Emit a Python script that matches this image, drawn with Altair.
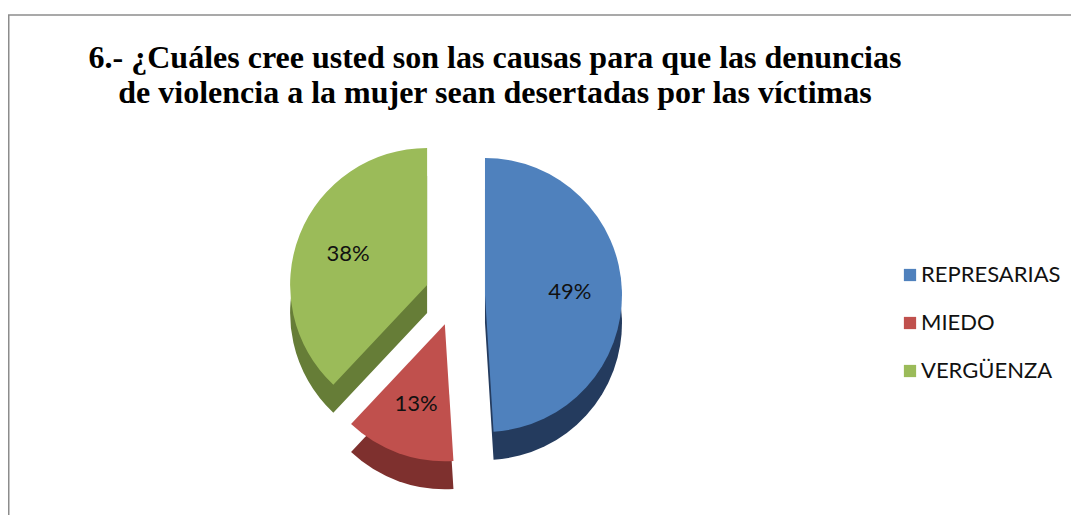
import altair as alt
import pandas as pd

# ---- data ----
categories = ["REPRESARIAS", "MIEDO", "VERGÜENZA"]
values = [49, 13, 38]
labels = ["49%", "13%", "38%"]
title_lines = [
    "6.- ¿Cuáles cree usted son las causas para que las denuncias",
    "de violencia a la mujer sean desertadas por las víctimas",
]

# ---- styles ----
top_colors = ["#4F81BD", "#C0504D", "#9BBB59"]
side_colors = ["#243B5E", "#7E302E", "#667D37"]

W, H = 1063, 507
CX, CY = 447, 288
R = 137
EXPLODE = 30
DEPTH = 28
LABEL_R = 0.62 * R
TOTAL = sum(values)

df = pd.DataFrame({
    "category": categories,
    "value": values,
    "label": labels,
    "order": list(range(len(categories))),
})

base = (
    alt.Chart(df)
    .transform_window(cum="sum(value)", sort=[alt.SortField("order")], frame=[None, 0])
    .transform_joinaggregate(total="sum(value)")
    .transform_calculate(
        start="datum.cum - datum.value",
        mid="2*PI*(datum.cum - datum.value/2)/datum.total",
    )
    .transform_calculate(
        cx=f"{CX} + {EXPLODE}*sin(datum.mid)",
        cy=f"{CY} - {EXPLODE}*cos(datum.mid)",
    )
    .transform_calculate(
        cyd=f"datum.cy + {DEPTH}",
        lx=f"datum.cx + {LABEL_R}*sin(datum.mid)",
        ly=f"datum.cy - {LABEL_R}*cos(datum.mid)",
    )
)

theta_scale = alt.Scale(domain=[0, TOTAL])

side = base.mark_arc(radius=R).encode(
    theta=alt.Theta("start:Q", scale=theta_scale),
    theta2="cum:Q",
    x=alt.X("cx:Q", scale=None, axis=None),
    y=alt.Y("cyd:Q", scale=None, axis=None),
    color=alt.Color("category:N", scale=alt.Scale(domain=categories, range=side_colors), legend=None),
)

top = base.mark_arc(radius=R).encode(
    theta=alt.Theta("start:Q", scale=theta_scale),
    theta2="cum:Q",
    x=alt.X("cx:Q", scale=None, axis=None),
    y=alt.Y("cy:Q", scale=None, axis=None),
    color=alt.Color(
        "category:N",
        scale=alt.Scale(domain=categories, range=top_colors),
        legend=alt.Legend(
            title=None,
            orient="none",
            legendX=891,
            legendY=256,
            symbolType="square",
            symbolSize=150,
            symbolStrokeWidth=0,
            labelFont="Lato",
            labelFontSize=22,
            labelColor="#111111",
            labelOffset=0,
            rowPadding=26,
        ),
    ),
)

text = base.mark_text(font="Lato", fontSize=22, color="#111111").encode(
    x=alt.X("lx:Q", scale=None, axis=None),
    y=alt.Y("ly:Q", scale=None, axis=None),
    text="label:N",
)

frame_data = alt.Data(values=[{}])
frame_top = alt.Chart(frame_data).mark_rule(color="#8C8C8C", strokeWidth=1.5).encode(
    x=alt.value(0), x2=alt.value(W), y=alt.value(7)
)
frame_left = alt.Chart(frame_data).mark_rule(color="#8C8C8C", strokeWidth=1.5).encode(
    x=alt.value(0.75), y=alt.value(7), y2=alt.value(H)
)

chart = (
    alt.layer(frame_top, frame_left, side, top, text)
    .resolve_scale(color="independent")
    .properties(
        width=W,
        height=H,
        padding=0,
        autosize=alt.AutoSizeParams(type="none"),
        background="white",
        title=alt.TitleParams(
            text=title_lines,
            font="Liberation Serif",
            fontSize=32,
            fontWeight="bold",
            color="black",
            anchor="middle",
            frame="group",
            orient="top",
            baseline="top",
            lineHeight=35,
            offset=0,
            dx=-44.5,
            dy=102,
        ),
    )
    .configure_view(stroke="transparent", strokeWidth=0)
)

chart.save("out.html", embed_options={"renderer": "svg", "actions": False})
